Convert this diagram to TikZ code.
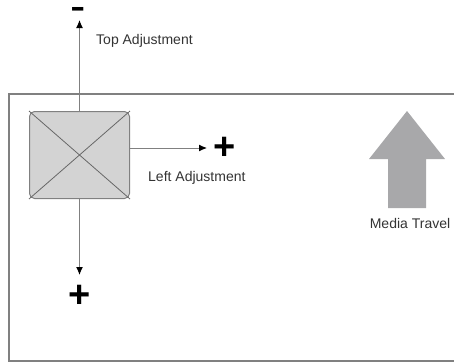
\documentclass[tikz,border=0pt]{standalone}
\usepackage{fontspec}
\setmainfont{Liberation Sans}
\usetikzlibrary{arrows.meta}

\definecolor{framegray}{HTML}{808080}
\definecolor{boxfill}{HTML}{D3D3D3}
\definecolor{travelgray}{HTML}{A8A8AA}
\definecolor{labelgray}{HTML}{333333}

\begin{document}
\begin{tikzpicture}[x=1pt, y=-1pt,
  adjarrow/.style={draw=framegray, line width=1pt, -{Latex[black,length=8pt,width=7pt]}},
  adjlabel/.style={text=labelgray, font=\fontsize{14}{16}\selectfont, inner sep=0pt},
  sign/.style={font=\fontsize{38}{38}\selectfont\bfseries, inner sep=0pt}]
\useasboundingbox (0,0) rectangle (454,362);
% media
\draw[framegray, line width=1.5pt] (9,94) rectangle (470,361);
% carriage
\node[draw=framegray, fill=boxfill, rounded corners=5pt, line width=1pt,
  minimum width=100pt, minimum height=87pt, inner sep=0pt] (carriage) at (79.5,155) {};
\draw[framegray!80!black, line width=0.8pt] (carriage.north west) -- (carriage.south east);
\draw[framegray!80!black, line width=0.8pt] (carriage.north east) -- (carriage.south west);
% adjustments
\coordinate (topend) at (79.5,20);
\coordinate (rightend) at (207,148);
\coordinate (downend) at (79.5,275);
\draw[adjarrow] (carriage.north) -- (topend);
\draw[adjarrow] (carriage.east |- rightend) -- (rightend);
\draw[adjarrow] (carriage.south) -- (downend);
\node[sign, font=\fontsize{46}{46}\selectfont, anchor=base] (topminus) at (78.5,21) {-};
\node[sign] (rightplus) at (225,148) {+};
\node[sign] (downplus) at (80,296) {+};
\node[adjlabel, anchor=west] (toplabel) at (96,41) {Top Adjustment};
\node[adjlabel, anchor=west] (leftlabel) at (148,178) {Left Adjustment};
% media travel
\fill[travelgray] (407,111) -- (445,159) -- (426,159) -- (426,208)
  -- (388,208) -- (388,159) -- (369,159) -- cycle;
\node[adjlabel] (travellabel) at (410,223) {Media Travel};
\end{tikzpicture}
\end{document}
